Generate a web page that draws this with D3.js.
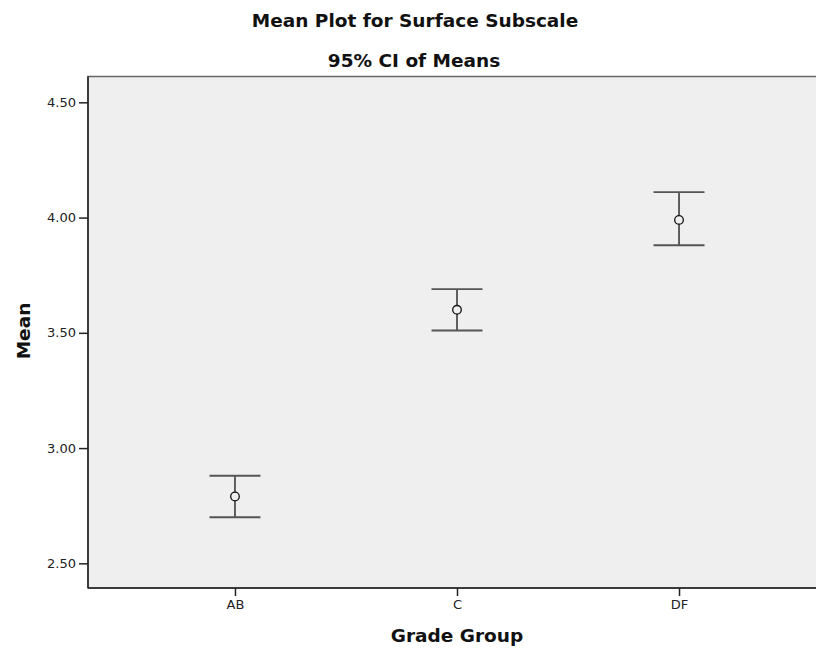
<!DOCTYPE html>
<html>
<head>
<meta charset="utf-8">
<script src="https://cdn.jsdelivr.net/npm/d3@7"></script>
<style>
  body { margin: 0; background: #fff; }
  svg { display: block; font-family: "DejaVu Sans", sans-serif; }
  .title { font-weight: bold; font-size: 18.5px; fill: #111; }
  .axis-label { font-weight: bold; font-size: 18.5px; fill: #111; }
  .tick text { font-size: 13px; fill: #222; }
</style>
</head>
<body>
<div id="chart"></div>
<script>
// values
const groups = ['AB', 'C', 'DF'];
const means = [2.79, 3.60, 3.99];
const lower = [2.70, 3.51, 3.88];
const upper = [2.88, 3.69, 4.11];
const yTicks = [2.5, 3.0, 3.5, 4.0, 4.5];

const width = 816;
const height = 651;
const plot = { left: 88, top: 76.5, right: 826, bottom: 588 };
const capHalf = 25.5;

const svg = d3.select('#chart')
  .append('svg')
  .attr('width', width)
  .attr('height', height);

const x = d3.scalePoint()
  .domain(groups)
  .range([plot.left, plot.right])
  .padding(0.662);

const y = d3.scaleLinear()
  .domain([2.393, 4.612])
  .range([plot.bottom, plot.top]);

// plot background
svg.append('rect')
  .attr('x', plot.left)
  .attr('y', plot.top)
  .attr('width', plot.right - plot.left)
  .attr('height', plot.bottom - plot.top)
  .attr('fill', '#efefef')
  .attr('stroke', '#666')
  .attr('stroke-width', 1.5);

// axes
const yAxis = svg.append('g')
  .attr('transform', `translate(${plot.left},0)`)
  .call(d3.axisLeft(y).tickValues(yTicks).tickFormat(d3.format('.2f')).tickSizeOuter(0).tickSize(9).tickPadding(3));

const xAxis = svg.append('g')
  .attr('transform', `translate(0,${plot.bottom})`)
  .call(d3.axisBottom(x).tickSizeOuter(0).tickSize(8).tickPadding(4));

[yAxis, xAxis].forEach(g => {
  g.select('.domain').attr('stroke', '#222').attr('stroke-width', 1.5);
  g.selectAll('.tick line').attr('stroke', '#222').attr('stroke-width', 1.5);
  g.selectAll('.tick text').attr('font-family', '"DejaVu Sans", sans-serif');
});
yAxis.select('.domain').attr('d', `M0,${plot.top}V${plot.bottom}`);
xAxis.select('.domain').attr('d', `M${plot.left},0H${plot.right}`);

// error bars
const rows = groups.map((g, i) => ({ g, mean: means[i], lo: lower[i], hi: upper[i] }));

const bars = svg.append('g')
  .selectAll('g')
  .data(rows)
  .join('g');

bars.append('line')
  .attr('x1', d => x(d.g))
  .attr('x2', d => x(d.g))
  .attr('y1', d => y(d.hi))
  .attr('y2', d => y(d.lo))
  .attr('stroke', '#111')
  .attr('stroke-width', 1.3);

bars.selectAll('line.cap')
  .data(d => [d.hi, d.lo].map(v => ({ g: d.g, v })))
  .join('line')
  .attr('class', 'cap')
  .attr('x1', d => x(d.g) - capHalf)
  .attr('x2', d => x(d.g) + capHalf)
  .attr('y1', d => y(d.v))
  .attr('y2', d => y(d.v))
  .attr('stroke', '#555')
  .attr('stroke-width', 1.8);

bars.append('circle')
  .attr('cx', d => x(d.g))
  .attr('cy', d => y(d.mean))
  .attr('r', 4.3)
  .attr('fill', '#efefef')
  .attr('stroke', '#111')
  .attr('stroke-width', 1.3);

// titles
svg.append('text')
  .attr('class', 'title')
  .attr('x', 415)
  .attr('y', 27)
  .attr('text-anchor', 'middle')
  .text('Mean Plot for Surface Subscale');

svg.append('text')
  .attr('class', 'title')
  .attr('x', 414)
  .attr('y', 66.5)
  .attr('text-anchor', 'middle')
  .text('95% CI of Means');

svg.append('text')
  .attr('class', 'axis-label')
  .attr('transform', `translate(30,331) rotate(-90)`)
  .attr('text-anchor', 'middle')
  .text('Mean');

svg.append('text')
  .attr('class', 'axis-label')
  .attr('x', x('C'))
  .attr('y', 642)
  .attr('text-anchor', 'middle')
  .text('Grade Group');
</script>
</body>
</html>
